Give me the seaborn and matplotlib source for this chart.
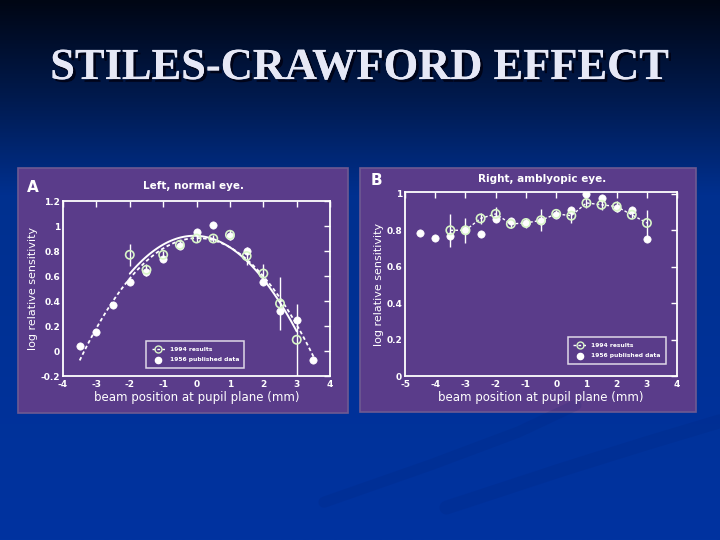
import numpy as np
import pandas as pd
import seaborn as sns
import matplotlib.pyplot as plt
import matplotlib.patheffects as pe
from matplotlib.colors import LinearSegmentedColormap
from matplotlib.patches import Rectangle

# ---- data ----
# Panel A: left, normal eye
a_pos_94 = [-2, -1.5, -1, -0.5, 0, 0.5, 1, 1.5, 2, 2.5, 3]
a_val_94 = [0.77, 0.65, 0.77, 0.85, 0.90, 0.90, 0.93, 0.76, 0.62, 0.38, 0.09]
a_err_94 = [0.09, 0.05, 0.03, 0.03, 0.03, 0.03, 0.04, 0.07, 0.08, 0.21, 0.29]
a_pos_56 = [-3.5, -3, -2.5, -2, -1.5, -1, -0.5, 0, 0.5, 1, 1.5, 2, 2.5, 3, 3.5]
a_val_56 = [0.04, 0.15, 0.37, 0.55, 0.63, 0.74, 0.84, 0.95, 1.01, 0.92, 0.80, 0.55, 0.32, 0.25, -0.07]

# Panel B: right, amblyopic eye
b_pos_94 = [-3.5, -3, -2.5, -2, -1.5, -1, -0.5, 0, 0.5, 1, 1.5, 2, 2.5, 3]
b_val_94 = [0.80, 0.80, 0.865, 0.89, 0.835, 0.84, 0.855, 0.89, 0.88, 0.95, 0.94, 0.93, 0.885, 0.84]
b_err_94 = [0.09, 0.07, 0.03, 0.04, 0.02, 0.03, 0.06, 0.02, 0.04, 0.03, 0.03, 0.03, 0.02, 0.07]
b_pos_56 = [-4.5, -4, -3.5, -3, -2.5, -2, -1.5, -1, -0.5, 0, 0.5, 1, 1.5, 2, 2.5, 3]
b_val_56 = [0.785, 0.755, 0.77, 0.80, 0.78, 0.86, 0.85, 0.84, 0.85, 0.885, 0.91, 1.00, 0.975, 0.925, 0.91, 0.75]

PURPLE = "#5a3c8a"
OPEN_EDGE = "#d8f5c8"
DASH = (0, (2, 1.5))

sns.set_style("white")
plt.rcParams["font.family"] = ["DejaVu Sans"]
plt.rcParams["axes.unicode_minus"] = False

fig = plt.figure(figsize=(7.2, 5.4), dpi=100)

# slide background: dark navy at top to royal blue, with the two photo panels
bg = fig.add_axes([0, 0, 1, 1], zorder=-5)
cmap = LinearSegmentedColormap.from_list(
    "slide", [(0, "#000614"), (0.18, "#001a4e"), (0.36, "#00308f"), (1, "#0033a0")])
bg.imshow(np.linspace(0, 1, 256)[:, None], aspect="auto", cmap=cmap,
          extent=[0, 1, 0, 1], origin="upper")
# faint swooshes of the slide template, bottom right
bg.plot([0.45, 0.6, 0.72, 0.8], [0.07, 0.14, 0.2, 0.25], color="#001c6a", lw=8, alpha=0.12,
        solid_capstyle="round")
bg.plot([0.62, 0.78, 0.9, 1.0], [0.06, 0.13, 0.18, 0.22], color="#001c6a", lw=10, alpha=0.12,
        solid_capstyle="round")
bg.add_patch(Rectangle((0.025, 0.235), 0.458, 0.454, facecolor=PURPLE, edgecolor="#6e5a92", lw=1.2))
bg.add_patch(Rectangle((0.5, 0.237), 0.467, 0.452, facecolor=PURPLE, edgecolor="#6e5a92", lw=1.2))
bg.set_xlim(0, 1)
bg.set_ylim(0, 1)
bg.set_axis_off()

fig.text(0.5, 0.874, "STILES-CRAWFORD EFFECT", ha="center", va="center",
         fontsize=32, family="Liberation Serif", weight="bold", color="#e6e8f6",
         path_effects=[pe.withSimplePatchShadow(offset=(2, -2), shadow_rgbFace="#000010", alpha=0.8),
                       pe.Normal()])


def style_axes(ax):
    ax.set_facecolor(PURPLE)
    for s in ax.spines.values():
        s.set_color("white")
        s.set_linewidth(1.3)
    ax.tick_params(axis="both", which="both", direction="in", colors="white",
                   top=True, right=True, length=4, width=1, labelsize=6.5, pad=2)
    ax.tick_params(axis="x", pad=3)
    for lab in ax.get_xticklabels() + ax.get_yticklabels():
        lab.set_fontweight("bold")
    ax.set_xlabel("beam position at pupil plane (mm)", color="white", fontsize=8.5, labelpad=1)
    ax.set_ylabel("log relative sensitivity", color="white", fontsize=8, labelpad=2)


def legend_box(ax, anchor):
    ax.plot([], [], ls=DASH, color="white", marker="o", mfc="none", mec=OPEN_EDGE,
            ms=5, lw=1, label="1994 results")
    ax.scatter([], [], s=20, color="white", label="1956 published data")
    leg = ax.legend(loc="lower right", bbox_to_anchor=anchor, frameon=True, fancybox=False,
                    handlelength=2.2, borderpad=0.9, labelspacing=0.9,
                    prop={"weight": "bold", "size": 4.3})
    leg.get_frame().set_facecolor(PURPLE)
    leg.get_frame().set_edgecolor("white")
    leg.get_frame().set_linewidth(1.1)
    for t in leg.get_texts():
        t.set_color("white")


# ---- panel A ----
axA = fig.add_axes([0.0875, 0.3037, 0.371, 0.324])
dfA94 = pd.DataFrame({"pos": a_pos_94, "val": a_val_94})
dfA56 = pd.DataFrame({"pos": a_pos_56, "val": a_val_56})
sns.regplot(data=dfA94, x="pos", y="val", order=2, ci=None, scatter=False, truncate=True,
            ax=axA, line_kws={"color": "white", "lw": 1.4})
sns.regplot(data=dfA56, x="pos", y="val", order=2, ci=None, scatter=False, truncate=True,
            ax=axA, line_kws={"color": "white", "lw": 1.3, "ls": DASH})
axA.errorbar(a_pos_94, a_val_94, yerr=a_err_94, fmt="none", ecolor="white", elinewidth=1, capsize=0)
sns.scatterplot(data=dfA56, x="pos", y="val", ax=axA, s=28, color="white", edgecolor="white",
                zorder=4)
sns.scatterplot(data=dfA94, x="pos", y="val", ax=axA, s=36, facecolor="none",
                edgecolor=OPEN_EDGE, linewidth=1.2, zorder=5)
axA.set_xlim(-4, 4)
axA.set_ylim(-0.2, 1.2)
axA.set_xticks(range(-4, 5))
axA.set_yticks([-0.2, 0, 0.2, 0.4, 0.6, 0.8, 1, 1.2])
axA.set_yticklabels(["-0.2", "0", "0.2", "0.4", "0.6", "0.8", "1", "1.2"])
style_axes(axA)
legend_box(axA, (0.69, 0.03))
fig.text(0.269, 0.655, "Left, normal eye.", ha="center", va="center",
         color="white", fontsize=7.5, weight="bold")
fig.text(0.037, 0.652, "A", ha="left", va="center", color="white", fontsize=11, weight="bold")

# ---- panel B ----
axB = fig.add_axes([0.5625, 0.3037, 0.378, 0.3407])
dfB94 = pd.DataFrame({"pos": b_pos_94, "val": b_val_94})
dfB56 = pd.DataFrame({"pos": b_pos_56, "val": b_val_56})
axB.errorbar(b_pos_94, b_val_94, yerr=b_err_94, fmt="none", ecolor="white", elinewidth=1, capsize=0)
sns.lineplot(data=dfB94, x="pos", y="val", ax=axB, color="white", lw=1, linestyle=DASH)
sns.scatterplot(data=dfB56, x="pos", y="val", ax=axB, s=28, color="white", edgecolor="white",
                zorder=4)
sns.scatterplot(data=dfB94, x="pos", y="val", ax=axB, s=36, facecolor="none",
                edgecolor=OPEN_EDGE, linewidth=1.2, zorder=5)
axB.set_xlim(-5, 4)
axB.set_ylim(0, 1.01)
axB.set_xticks(range(-5, 5))
axB.set_yticks([0, 0.2, 0.4, 0.6, 0.8, 1])
axB.set_yticklabels(["0", "0.2", "0.4", "0.6", "0.8", "1"])
style_axes(axB)
legend_box(axB, (0.97, 0.05))
fig.text(0.753, 0.668, "Right, amblyopic eye.", ha="center", va="center",
         color="white", fontsize=7.5, weight="bold")
fig.text(0.515, 0.665, "B", ha="left", va="center", color="white", fontsize=11, weight="bold")

fig.savefig("out.png", dpi=100)
